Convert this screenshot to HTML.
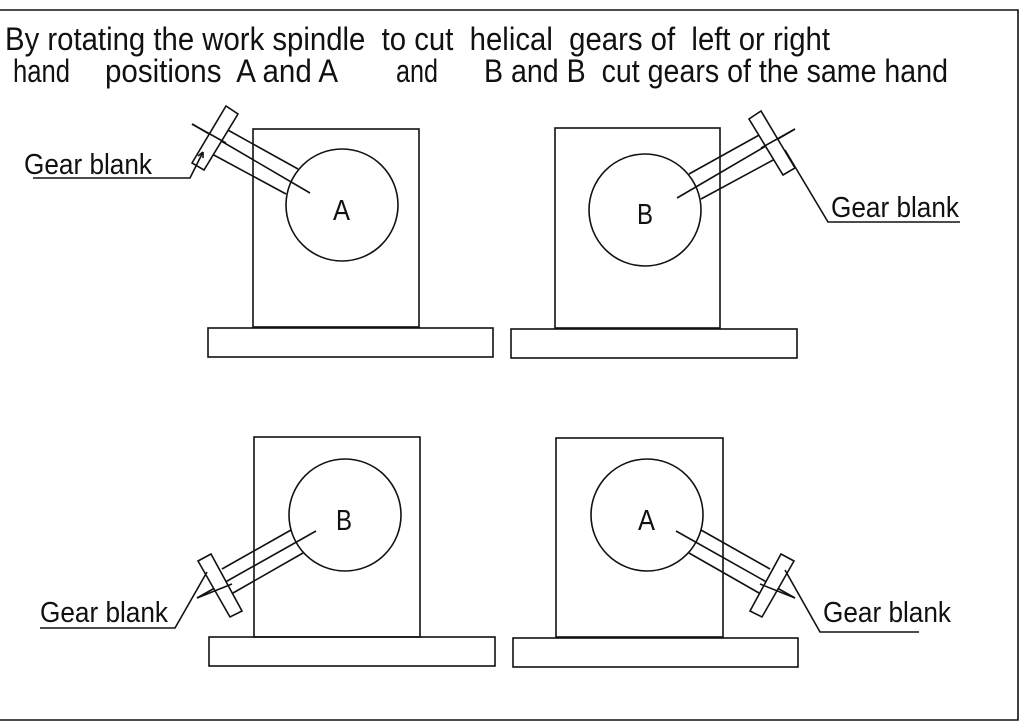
<!DOCTYPE html>
<html><head><style>html,body{margin:0;padding:0;background:#fff}svg{display:block}text{white-space:pre}</style></head>
<body>
<svg width="1024" height="728" viewBox="0 0 1024 728" xmlns="http://www.w3.org/2000/svg" font-family="Liberation Sans, sans-serif" fill="none" stroke="#111" stroke-width="1.6">
<path d="M0 10 H1018 V720 H0"/>
<g fill="#111" stroke="none" font-size="32">
<text x="5" y="50" textLength="825" lengthAdjust="spacingAndGlyphs" xml:space="preserve">By rotating the work spindle  to cut  helical  gears of  left or right</text>
<text x="13" y="82" textLength="57" lengthAdjust="spacingAndGlyphs">hand</text>
<text x="105" y="82" textLength="233" lengthAdjust="spacingAndGlyphs" xml:space="preserve">positions  A and A</text>
<text x="396" y="82" textLength="42" lengthAdjust="spacingAndGlyphs">and</text>
<text x="484" y="82" textLength="464" lengthAdjust="spacingAndGlyphs" xml:space="preserve">B and B  cut gears of the same hand</text>
</g>
<g fill="#111" stroke="none" font-size="29">
<text x="24" y="174" textLength="128" lengthAdjust="spacingAndGlyphs">Gear blank</text>
<text x="831" y="217" textLength="128" lengthAdjust="spacingAndGlyphs">Gear blank</text>
<text x="823" y="622" textLength="128" lengthAdjust="spacingAndGlyphs">Gear blank</text>
<text x="40" y="622" textLength="128" lengthAdjust="spacingAndGlyphs">Gear blank</text>
<text x="333" y="220" textLength="17" lengthAdjust="spacingAndGlyphs">A</text>
<text x="637" y="224" textLength="16" lengthAdjust="spacingAndGlyphs">B</text>
<text x="638" y="530" textLength="17" lengthAdjust="spacingAndGlyphs">A</text>
<text x="336" y="530" textLength="16" lengthAdjust="spacingAndGlyphs">B</text>
</g>
<rect x="253" y="129" width="166" height="198"/>
<rect x="208" y="328" width="285" height="29"/>
<g>
<circle cx="342" cy="205" r="56"/>
<path d="M226 129 L298 169 M212 154 L286 194 M192 124 L310 193"/>
<polygon points="192,163 226,106 238,114 204,170" fill="#fff"/>
<path d="M192 124 L226 143"/>
</g>
<path d="M33 178 H190 L203 152"/><path d="M203 152 l-5 4 m5 -4 l0 6"/>
<rect x="555" y="128" width="165" height="200"/>
<rect x="511" y="329" width="286" height="29"/>
<g transform="translate(987,5) scale(-1,1)">
<circle cx="342" cy="205" r="56"/>
<path d="M226 129 L298 169 M212 154 L286 194 M192 124 L310 193"/>
<polygon points="192,163 226,106 238,114 204,170" fill="#fff"/>
<path d="M192 124 L226 143"/>
</g>
<path d="M785 150 L828 222 H960"/>
<rect x="556" y="438" width="167" height="199"/>
<rect x="513" y="638" width="285" height="29"/>
<g>
<circle cx="647" cy="515" r="56"/>
<path d="M701 530 L770 569 M689 553 L759 593 M676 531 L795 598"/>
<polygon points="750,611 781,554 794,561 762,617" fill="#fff"/>
<path d="M760 584 L795 598"/>
</g>
<path d="M785 570 L820 632 H919"/>
<rect x="254" y="437" width="166" height="200"/>
<rect x="209" y="637" width="286" height="29"/>
<g transform="translate(992,0) scale(-1,1)">
<circle cx="647" cy="515" r="56"/>
<path d="M701 530 L770 569 M689 553 L759 593 M676 531 L795 598"/>
<polygon points="750,611 781,554 794,561 762,617" fill="#fff"/>
<path d="M760 584 L795 598"/>
</g>
<path d="M40 628 H175 L207 572"/>
</svg>
</body></html>
